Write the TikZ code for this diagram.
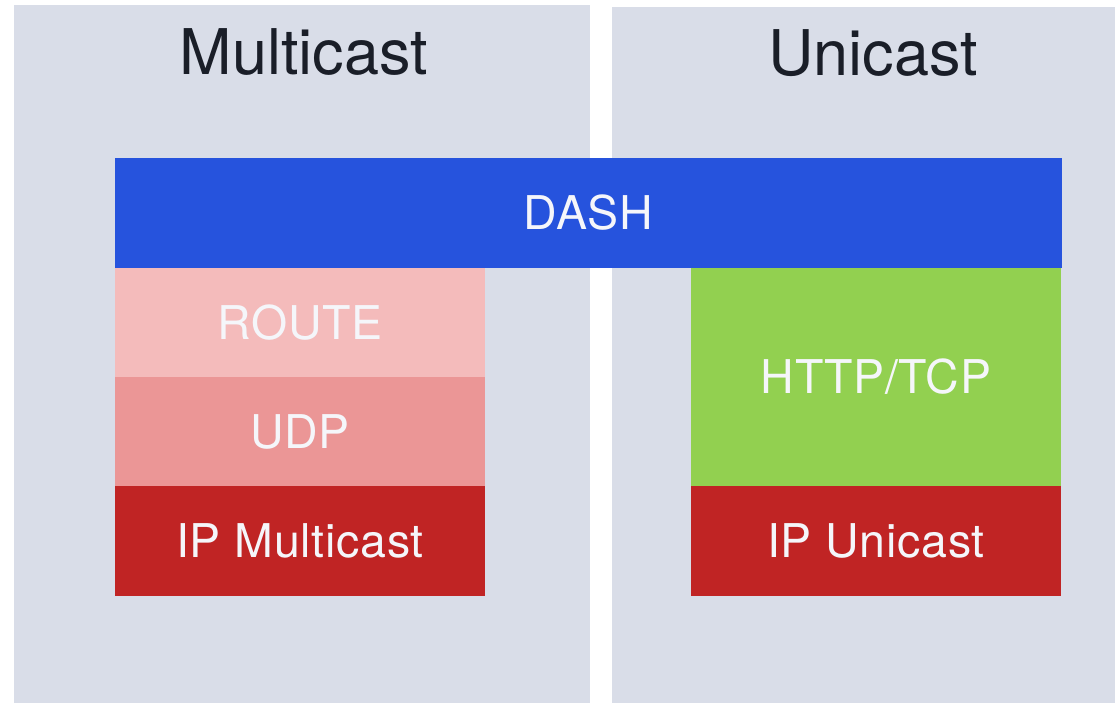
\documentclass[tikz,border=0pt]{standalone}
\usepackage{fontspec}
\setmainfont{TeX Gyre Heros}
\newfontfamily\labelfont[LetterSpace=1.6]{TeX Gyre Heros}
\definecolor{panel}{HTML}{D9DDE8}
\definecolor{dashblue}{HTML}{2653DD}
\definecolor{routepink}{HTML}{F4BBBB}
\definecolor{udppink}{HTML}{EB9696}
\definecolor{ipred}{HTML}{C02424}
\definecolor{httpgreen}{HTML}{92D050}
\definecolor{titlecol}{HTML}{1A1E28}
\definecolor{labelcol}{HTML}{F5F6FA}
\begin{document}
\begin{tikzpicture}[x=1bp,y=-1bp,
  panelbox/.style={fill=panel, draw=none},
  title/.style={inner sep=0pt, text=titlecol, font=\fontsize{63bp}{70bp}\selectfont, text height=45bp, text depth=0pt},
  layer/.style={draw=none, inner sep=0pt, text=labelcol, font=\labelfont\fontsize{46.5bp}{52bp}\selectfont, text height=33.5bp, text depth=0pt, minimum width=370bp, minimum height=109.5bp}]
\useasboundingbox (0,0) rectangle (1115,703);
\fill[white] (0,0) rectangle (1115,703);
\path[panelbox] (14,5) rectangle (590,703);
\path[panelbox] (612,7) rectangle (1115,703);
\node[title] (tmulti) at (304,52.5) {Multicast};
\node[title] (tuni) at (873,53.5) {Unicast};
\node[layer, fill=dashblue, minimum width=947bp, minimum height=110bp] (dash) at (588.5,213) {DASH};
\node[layer, fill=routepink] (route) at (300,322.5) {ROUTE};
\node[layer, fill=udppink] (udp) at (300,431.5) {UDP};
\node[layer, fill=ipred] (ipm) at (300,541) {IP Multicast};
\node[layer, fill=httpgreen, minimum height=218bp] (http) at (876,377) {HTTP/TCP};
\node[layer, fill=ipred] (ipu) at (876,541) {IP Unicast};
\end{tikzpicture}
\end{document}
